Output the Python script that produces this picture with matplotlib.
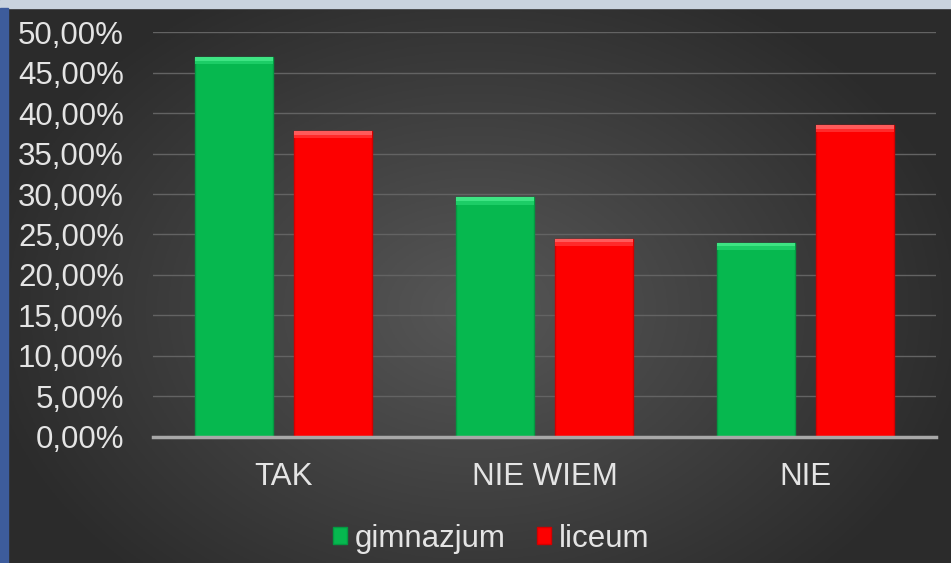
import numpy as np
import matplotlib
matplotlib.use("Agg")
import matplotlib.pyplot as plt
from matplotlib.patches import Rectangle

categories = ["TAK", "NIE WIEM", "NIE"]
gimnazjum = [46.9, 29.6, 24.0]
liceum = [37.8, 24.5, 38.5]
yticks = [0, 5, 10, 15, 20, 25, 30, 35, 40, 45, 50]

plt.rcParams['font.family'] = ['Liberation Sans', 'DejaVu Sans']
txt = '#e4e4e4'

fig = plt.figure(figsize=(9.51, 5.63), dpi=100)
fig.patch.set_facecolor('#2e2e2e')

# dark radial background, lighter in the middle
bg = fig.add_axes([0, 0, 1, 1], zorder=0)
gx, gy = np.meshgrid(np.linspace(-1, 1, 400), np.linspace(-1, 1, 240))
r = np.sqrt((gx / 1.05) ** 2 + ((gy + 0.1) / 1.3) ** 2)
shade = 0.34 - 0.17 * np.clip(r, 0, 1)
bg.imshow(np.dstack([shade] * 3), extent=[0, 1, 0, 1], aspect='auto', origin='lower')
bg.add_patch(Rectangle((0, 0.986), 1, 0.014, color='#c9d3de', transform=bg.transAxes))
bg.add_patch(Rectangle((0, 0), 0.008, 0.986, color='#3d5c9c', transform=bg.transAxes))
bg.set_xlim(0, 1)
bg.set_ylim(0, 1)
bg.axis('off')

ax = fig.add_axes([0.161, 0.224, 0.823, 0.719], zorder=1)
ax.patch.set_alpha(0)

x = np.arange(len(categories))
w = 0.30
off = 0.19
green = '#06b84f'
red = '#fd0000'

ax.bar(x - off, gimnazjum, w, color=green, edgecolor='#049a42', linewidth=1.0, zorder=3, label='gimnazjum')
ax.bar(x + off, liceum, w, color=red, edgecolor='#d40000', linewidth=1.0, zorder=3, label='liceum')
# bevel highlight on bar tops
hl = 0.45
ax.bar(x - off, [hl] * 3, w, bottom=[v - hl for v in gimnazjum], color='#3ee483', linewidth=0, zorder=4)
ax.bar(x - off, [hl] * 3, w, bottom=[v - 2 * hl for v in gimnazjum], color='#1ccd66', linewidth=0, zorder=4)
ax.bar(x + off, [hl] * 3, w, bottom=[v - hl for v in liceum], color='#ff5a5a', linewidth=0, zorder=4)
ax.bar(x + off, [hl] * 3, w, bottom=[v - 2 * hl for v in liceum], color='#ff2a2a', linewidth=0, zorder=4)

ax.set_xlim(-0.5, 2.5)
ax.set_ylim(0, 50)
ax.set_yticks(yticks)
ax.set_yticklabels(["{:.2f}%".format(v).replace('.', ',') for v in yticks])
ax.set_xticks(x)
ax.set_xticklabels(categories)
ax.tick_params(axis='both', length=0, labelsize=22.5, colors=txt)
ax.tick_params(axis='y', pad=21)
ax.tick_params(axis='x', pad=18)

ax.grid(axis='y', color='#636363', linewidth=1, zorder=0)
ax.set_axisbelow(True)
for s in ['top', 'right', 'left']:
    ax.spines[s].set_visible(False)
ax.spines['bottom'].set_color('#a8a8a8')
ax.spines['bottom'].set_linewidth(2.5)
ax.spines['bottom'].set_zorder(5)

leg = ax.legend(loc='upper center', bbox_to_anchor=(0.432, -0.145), ncol=2, frameon=False,
                fontsize=22.5, handlelength=0.45, handleheight=0.45, handletextpad=0.25, columnspacing=1.0)
for t in leg.get_texts():
    t.set_color(txt)

fig.savefig('out.png', dpi=100, facecolor=fig.get_facecolor())
